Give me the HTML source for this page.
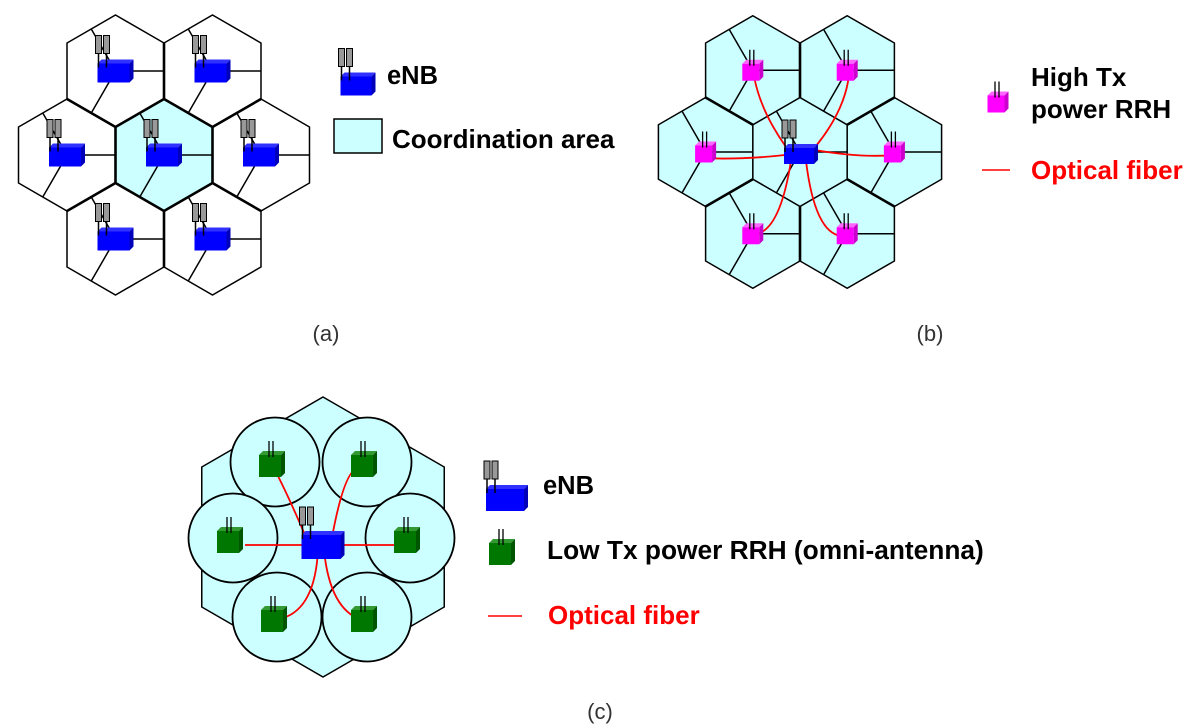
<!DOCTYPE html>
<html><head><meta charset="utf-8"><style>
html,body{margin:0;padding:0;background:#fff}
svg{display:block}
text{font-family:"Liberation Sans",sans-serif}
</style></head><body>
<svg id="s" width="1200" height="725" viewBox="0 0 1200 725">
<g id="ga"></g>
<g id="gb"></g>
<g id="gc"></g>
<g id="gl"></g>
<text x="326" y="341" font-size="22" text-anchor="middle" fill="#333">(a)</text>
<text x="930" y="341" font-size="22" text-anchor="middle" fill="#333">(b)</text>
<text x="600" y="719" font-size="22" text-anchor="middle" fill="#333">(c)</text>
<text x="387" y="84" font-size="25.5" font-weight="bold">eNB</text>
<text x="392" y="148" font-size="26" font-weight="bold">Coordination area</text>
<text x="1031" y="86" font-size="26" font-weight="bold">High Tx</text>
<text x="1031" y="118" font-size="26" font-weight="bold">power RRH</text>
<text x="1031" y="179" font-size="26" font-weight="bold" fill="#ff0000">Optical fiber</text>
<text x="543" y="494" font-size="25.5" font-weight="bold">eNB</text>
<text x="547" y="559" font-size="26.3" font-weight="bold">Low Tx power RRH (omni-antenna)</text>
<text x="548" y="624" font-size="26" font-weight="bold" fill="#ff0000">Optical fiber</text>
</svg>
<script>
const NS="http://www.w3.org/2000/svg";
function mk(p,tag,at){const e=document.createElementNS(NS,tag);for(const k in at)e.setAttribute(k,at[k]);p.appendChild(e);return e;}
function hexPts(cx,cy,R){let s=[];for(let i=0;i<6;i++){const a=(-90+60*i)*Math.PI/180;s.push([cx+R*Math.cos(a),cy+R*Math.sin(a)]);}return s;}
function hex(p,cx,cy,R,fill,sw){const pts=hexPts(cx,cy,R);const e=mk(p,'polygon',{points:pts.map(q=>q.join(',')).join(' '),fill:fill,stroke:'#000','stroke-width':sw});


return pts;}
function sectors(p,cx,cy,R){const pts=hexPts(cx,cy,R);
const edges=[[1,2],[5,0],[3,4]];
edges.forEach(([a,b])=>{const mx=(pts[a][0]+pts[b][0])/2,my=(pts[a][1]+pts[b][1])/2;
const l=mk(p,'line',{x1:cx,y1:cy,x2:mx,y2:my,stroke:'#000','stroke-width':1.5});

});}
function enb(p,x,y,w,h){const g=mk(p,'g',{});


const d=4,x0=x-w/2,y0=y-h/2+2;
mk(g,'rect',{x:x0-2,y:y-h/2-26,width:6,height:18,fill:'#999',stroke:'#000','stroke-width':1});
mk(g,'rect',{x:x0+6,y:y-h/2-26,width:6,height:18,fill:'#999',stroke:'#000','stroke-width':1});
mk(g,'polygon',{points:`${x0},${y0} ${x0+d},${y0-d} ${x0+w+d},${y0-d} ${x0+w},${y0}`,fill:'#3030ff'});
mk(g,'polygon',{points:`${x0+w},${y0} ${x0+w+d},${y0-d} ${x0+w+d},${y0+h-d} ${x0+w},${y0+h}`,fill:'#0000bb'});
mk(g,'rect',{x:x0,y:y0,width:w,height:h,fill:'#0000ff'});
mk(g,'line',{x1:x0+1,y1:y-h/2-8,x2:x0+1,y2:y0+4,stroke:'#000','stroke-width':1.5});
mk(g,'line',{x1:x0+9,y1:y-h/2-8,x2:x0+9,y2:y0+4,stroke:'#000','stroke-width':1.5});
return g;}
function cube(p,x,y,s,c1,c2,c3,name){const g=mk(p,'g',{});


const d=4,x0=x-s/2,y0=y-s/2;
mk(g,'polygon',{points:`${x0},${y0} ${x0+d},${y0-d} ${x0+s+d},${y0-d} ${x0+s},${y0}`,fill:c2});
mk(g,'polygon',{points:`${x0+s},${y0} ${x0+s+d},${y0-d} ${x0+s+d},${y0+s-d} ${x0+s},${y0+s}`,fill:c3});
mk(g,'rect',{x:x0,y:y0,width:s,height:s,fill:c1});
mk(g,'line',{x1:x0+s/2-1,y1:y0-14,x2:x0+s/2-1,y2:y0+2,stroke:'#000','stroke-width':1.3});
mk(g,'line',{x1:x0+s/2+3,y1:y0-14,x2:x0+s/2+3,y2:y0+2,stroke:'#000','stroke-width':1.3});
return g;}
function fiber(p,d){const e=mk(p,'path',{d:d,fill:'none',stroke:'#ff0000','stroke-width':1.8});

}
function ring(cx,cy,R){const hw=R*Math.sqrt(3)/2;return [[cx,cy],[cx-hw,cy-1.5*R],[cx+hw,cy-1.5*R],[cx-2*hw,cy],[cx+2*hw,cy],[cx-hw,cy+1.5*R],[cx+hw,cy+1.5*R]];}
function radial(p,cx,cy,R){for(let i=0;i<6;i++){const a=(-90+60*i)*Math.PI/180;
const l=mk(p,'line',{x1:cx+R*Math.cos(a),y1:cy+R*Math.sin(a),x2:cx+2*R*Math.cos(a),y2:cy+2*R*Math.sin(a),stroke:'#000','stroke-width':2.6});

}}
const ga=document.getElementById('ga');
const A=ring(164,155,56);
A.forEach((c,i)=>{hex(ga,c[0],c[1],56,i==0?'#ccffff':'#fff',1.5);});
radial(ga,164,155,56);
hex(ga,164,155,56,'none',2.6);
A.forEach(c=>{sectors(ga,c[0],c[1],56);enb(ga,c[0]-2,c[1],32,19);});
const gb=document.getElementById('gb');
const B=ring(800,152,54.5);
B.forEach(c=>hex(gb,c[0],c[1],54.5,'#ccffff',1.5));
radial(gb,800,152,54.5);
B.forEach(c=>sectors(gb,c[0],c[1],54.5));
['M786,147 Q760,110 754,76','M816,146 Q845,110 849,75','M785,155 Q740,160 700,158 Q694,150 700,148','M815,150 Q860,158 896,155','M791,161 Q780,230 756,234','M806,161 Q815,234 842,236'].forEach(d=>fiber(gb,d));
B.slice(1).forEach(c=>cube(gb,c[0]-2,c[1]+2,17,'#ff00ff','#ff66ff','#cc00cc','rrh-high-power'));
enb(gb,799,154,30,16);
const gc=document.getElementById('gc');
hex(gc,323,537,140,'#ccffff',1.5);
const C=[[275,462],[367,462],[233,538],[410,538],[277,617],[367,617]];
C.forEach(c=>{const e=mk(gc,'circle',{cx:c[0],cy:c[1],r:44.5,fill:'#ccffff',stroke:'#000','stroke-width':1.8});

});
['M305,535 Q290,500 278,476 Q276,470 279,466','M333,532 Q345,470 358,468','M305,545 L245,545','M340,545 L398,545','M318,550 Q315,608 283,618','M324,550 Q330,610 362,620'].forEach(d=>fiber(gc,d));
C.forEach(c=>cube(gc,c[0]-5,c[1]+4,22,'#007700','#339933','#005500','rrh-low-power'));
enb(gc,321,545,39,24);
const gl=document.getElementById('gl');
enb(gl,356,84,31,19);
const sq=mk(gl,'rect',{x:334,y:119,width:48,height:34,fill:'#ccffff',stroke:'#000','stroke-width':1.5});


cube(gl,996,104,17,'#ff00ff','#ff66ff','#cc00cc','legend-rrh-high');
const l1=mk(gl,'line',{x1:982,y1:170,x2:1010,y2:170,stroke:'#ff0000','stroke-width':1.5});


enb(gl,505,498,38,22);
cube(gl,500,554,22,'#007700','#339933','#005500','legend-rrh-low');
const l2=mk(gl,'line',{x1:488,y1:616,x2:522,y2:616,stroke:'#ff0000','stroke-width':1.5});


</script>
</body></html>
